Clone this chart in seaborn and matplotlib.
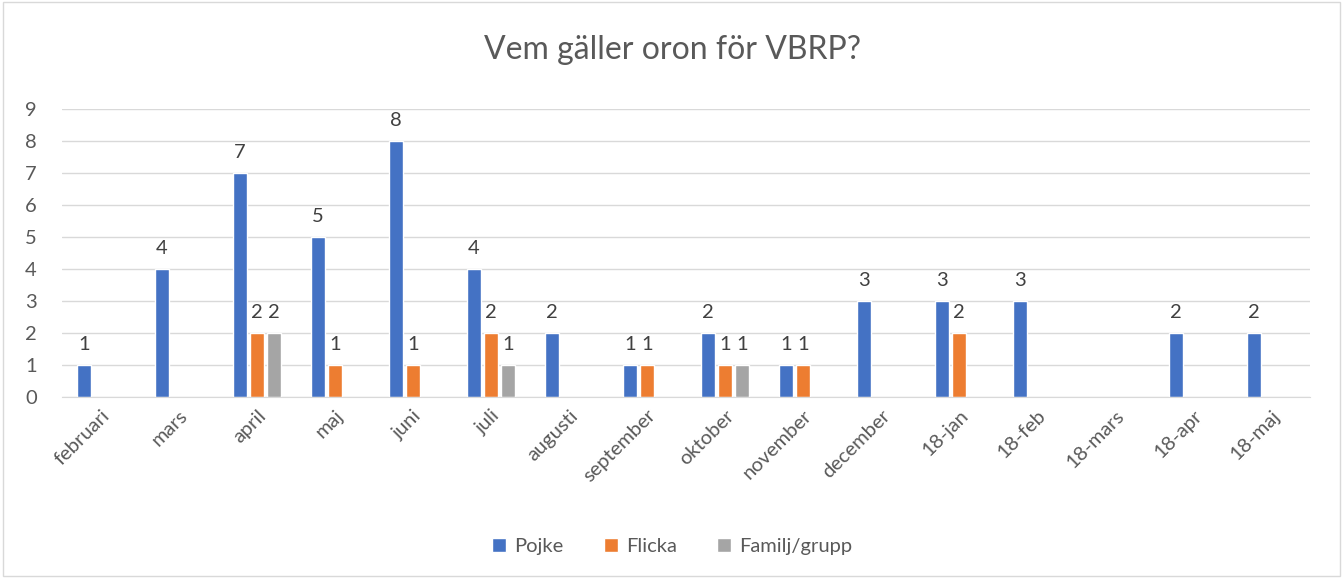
import pandas as pd
import numpy as np
import seaborn as sns
import matplotlib.pyplot as plt
from matplotlib.patches import Rectangle

months = ["februari", "mars", "april", "maj", "juni", "juli", "augusti", "september",
          "oktober", "november", "december", "18-jan", "18-feb", "18-mars", "18-apr", "18-maj"]
pojke = [1, 4, 7, 5, 8, 4, 2, 1, 2, 1, 3, 3, 3, np.nan, 2, 2]
flicka = [np.nan, np.nan, 2, 1, 1, 2, np.nan, 1, 1, 1, np.nan, 2, np.nan, np.nan, np.nan, np.nan]
familj = [np.nan, np.nan, 2, np.nan, np.nan, 1, np.nan, np.nan, 1, np.nan, np.nan, np.nan, np.nan, np.nan, np.nan, np.nan]
series = ["Pojke", "Flicka", "Familj/grupp"]
colors = ["#4472C4", "#ED7D31", "#A5A5A5"]

df = pd.DataFrame({"month": months * 3,
                   "serie": np.repeat(series, len(months)),
                   "antal": pojke + flicka + familj})

sns.set_style("white")
plt.rcParams["font.family"] = ["Lato", "DejaVu Sans"]
txt = "#595959"

fig = plt.figure(figsize=(13.44, 5.78), dpi=100)
ax = fig.add_axes([0.046, 0.313, 0.929, 0.498])

sns.barplot(data=df, x="month", y="antal", hue="serie", order=months, hue_order=series,
            palette=colors, width=0.66, gap=0.2, ax=ax, errorbar=None, saturation=1)

# värden ovanför staplarna
for c in ax.containers:
    ax.bar_label(c, fmt="%g", padding=9, fontsize=14.5, color="#404040")

ax.set_ylim(0, 9)
ax.set_yticks(range(10))
ax.set_xlim(-0.5, len(months) - 0.5)
ax.grid(axis="y", color="#D9D9D9", linewidth=1)
ax.set_axisbelow(True)
for s in ["top", "right", "left"]:
    ax.spines[s].set_visible(False)
ax.spines["bottom"].set_color("#D9D9D9")
ax.set_xlabel("")
ax.set_ylabel("")
ax.tick_params(axis="y", length=0, labelsize=14.5, labelcolor=txt, pad=18)
ax.tick_params(axis="x", length=0, labelsize=14.5, labelcolor=txt, pad=7)
plt.setp(ax.get_xticklabels(), rotation=45, ha="right", rotation_mode="anchor")

fig.suptitle("Vem gäller oron för VBRP?", y=0.94, fontsize=23, color=txt)

ax.legend(loc="center", bbox_to_anchor=(0.5, 0.054), bbox_transform=fig.transFigure,
          ncol=3, frameon=False, fontsize=14.5, handlelength=0.7, handleheight=0.7,
          columnspacing=2, handletextpad=0.4, labelcolor=txt)

fig.patches.append(Rectangle((0.002, 0.003), 0.995, 0.994, transform=fig.transFigure,
                             fill=False, edgecolor="#D9D9D9", linewidth=1))

fig.savefig("out.png", dpi=100)
